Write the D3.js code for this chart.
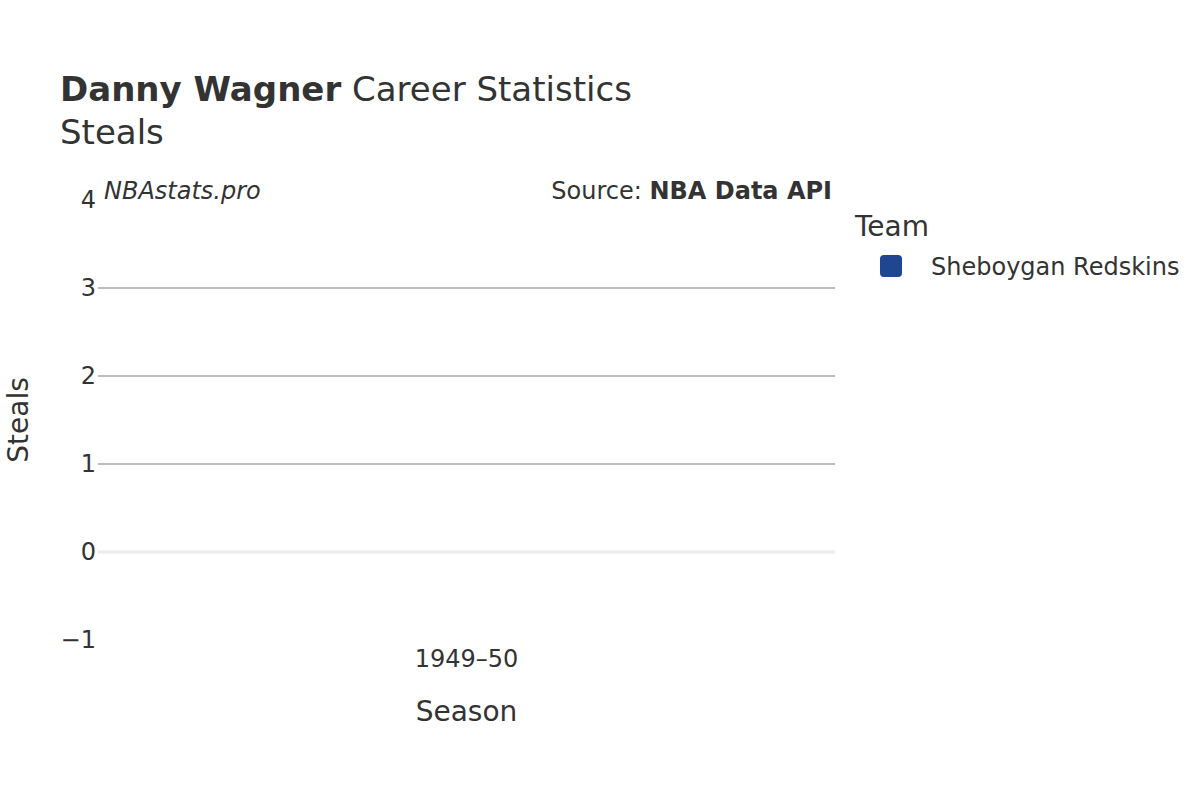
<!DOCTYPE html>
<html>
<head>
<meta charset="utf-8">
<script src="https://cdn.jsdelivr.net/npm/d3@7"></script>
<style>
  body { margin: 0; background: #fff; }
  svg { font-family: "DejaVu Sans", sans-serif; fill: #333; }
</style>
</head>
<body>
<svg id="chart" width="1200" height="800"></svg>
<script>
/* ── Data ───────────────────────────────────────────────────────────────────── */
const seasons = ["1949–50"];
const steals = [null];            // no steals recorded that season
const teams = ["Sheboygan Redskins"];
const teamColors = ["#1f4690"];
const yTicks = [-1, 0, 1, 2, 3, 4];

/* ── Layout ─────────────────────────────────────────────────────────────────── */
const M = { left: 98, right: 835, top: 200, bottom: 640 };
const svg = d3.select("#chart");

const x = d3.scaleBand().domain(seasons).range([M.left, M.right]).padding(0.2);
const y = d3.scaleLinear().domain([-1, 4]).range([M.bottom, M.top]);

/* ── Grid ───────────────────────────────────────────────────────────────────── */
svg.append("g").selectAll("line")
  .data(yTicks.filter(t => t > 0 && t < 4))
  .join("line")
  .attr("x1", M.left).attr("x2", M.right)
  .attr("y1", d => y(d)).attr("y2", d => y(d))
  .attr("stroke", "#bdbdbd").attr("stroke-width", 2);

svg.append("line")
  .attr("x1", M.left).attr("x2", M.right)
  .attr("y1", y(0)).attr("y2", y(0))
  .attr("stroke", "#ececec").attr("stroke-width", 3);

/* ── Bars ───────────────────────────────────────────────────────────────────── */
svg.append("g").selectAll("rect")
  .data(seasons.map((s, i) => ({ s, v: steals[i] })).filter(d => d.v != null))
  .join("rect")
  .attr("x", d => x(d.s))
  .attr("width", x.bandwidth())
  .attr("y", d => y(Math.max(0, d.v)))
  .attr("height", d => Math.abs(y(d.v) - y(0)))
  .attr("fill", teamColors[0]);

/* ── Axes ───────────────────────────────────────────────────────────────────── */
svg.append("g").selectAll("text")
  .data(yTicks)
  .join("text")
  .attr("x", 96).attr("y", d => y(d) + 8)
  .attr("text-anchor", "end")
  .attr("font-size", 24)
  .text(d => d < 0 ? "\u2212" + Math.abs(d) : d);

svg.append("g").selectAll("text")
  .data(seasons)
  .join("text")
  .attr("x", d => x(d) + x.bandwidth() / 2).attr("y", 667)
  .attr("text-anchor", "middle")
  .attr("font-size", 24)
  .text(d => d);

svg.append("text")
  .attr("x", (M.left + M.right) / 2).attr("y", 721)
  .attr("text-anchor", "middle").attr("font-size", 28)
  .text("Season");

svg.append("text")
  .attr("transform", `translate(28,${(M.top + M.bottom) / 2}) rotate(-90)`)
  .attr("text-anchor", "middle").attr("font-size", 28)
  .text("Steals");

/* ── Titles ─────────────────────────────────────────────────────────────────── */
const title = svg.append("text").attr("x", 60).attr("y", 101).attr("font-size", 34);
title.append("tspan").attr("font-weight", "bold").text("Danny Wagner");
title.append("tspan").text(" Career Statistics");
svg.append("text").attr("x", 60).attr("y", 144).attr("font-size", 34).text("Steals");

svg.append("text")
  .attr("x", 104).attr("y", 199)
  .attr("font-size", 24).attr("font-style", "italic")
  .text("NBAstats.pro");

const src = svg.append("text")
  .attr("x", 832).attr("y", 199)
  .attr("text-anchor", "end").attr("font-size", 24);
src.append("tspan").text("Source: ");
src.append("tspan").attr("font-weight", "bold").text("NBA Data API");

/* ── Legend ─────────────────────────────────────────────────────────────────── */
svg.append("text").attr("x", 855).attr("y", 236).attr("font-size", 28).text("Team");
const leg = svg.append("g").selectAll("g")
  .data(teams)
  .join("g")
  .attr("transform", (d, i) => `translate(880,${255 + i * 30})`);
leg.append("rect")
  .attr("width", 22).attr("height", 22).attr("rx", 4)
  .attr("fill", (d, i) => teamColors[i]);
leg.append("text")
  .attr("x", 51).attr("y", 20).attr("font-size", 24)
  .text(d => d);
</script>
</body>
</html>
